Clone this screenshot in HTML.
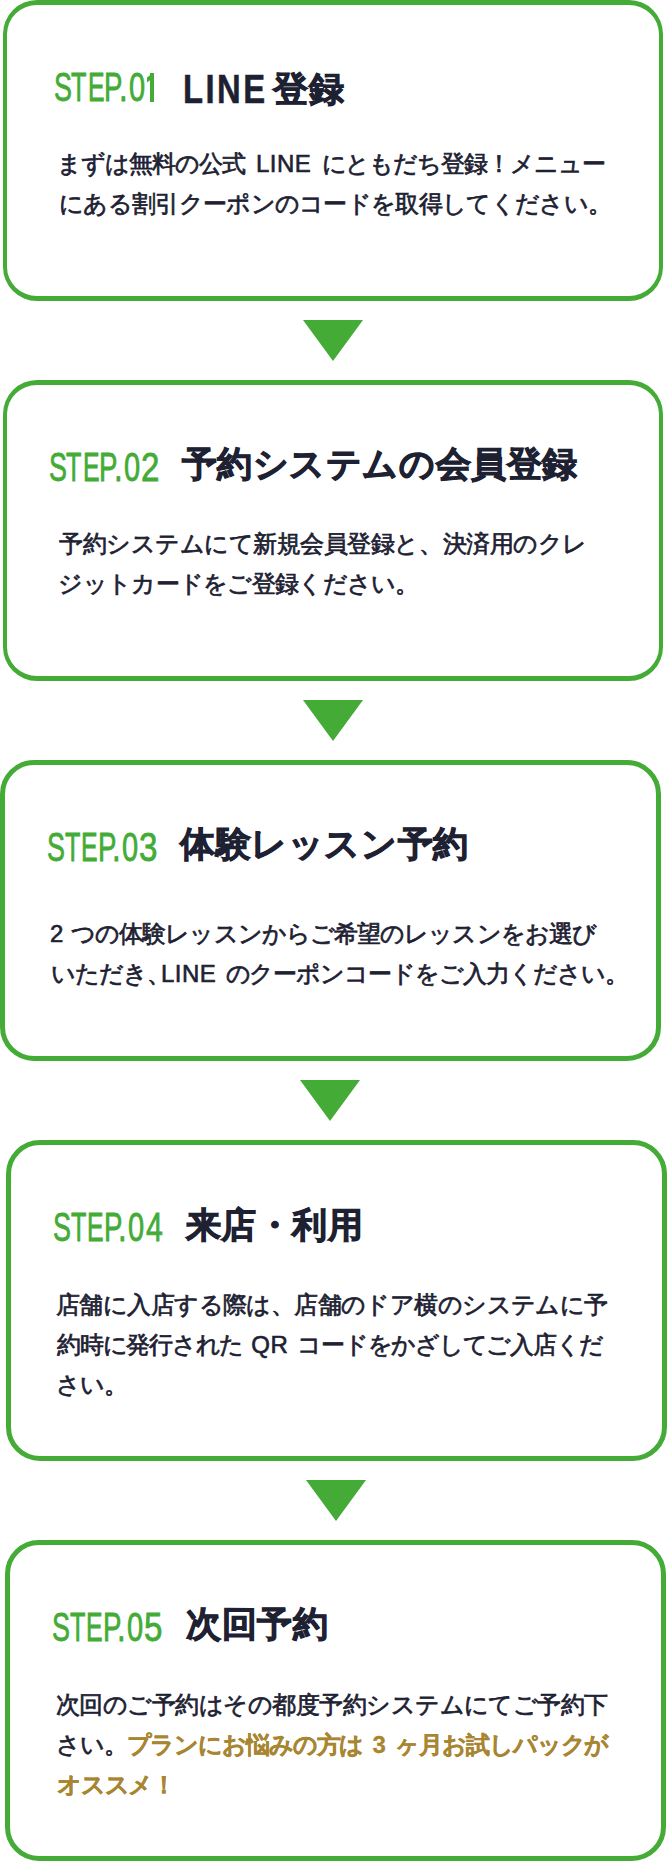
<!DOCTYPE html>
<html lang="ja">
<head>
<meta charset="utf-8">
<style>
html,body{margin:0;padding:0;background:#fff;}
body{width:667px;height:1861px;position:relative;overflow:hidden;font-family:"Liberation Sans",sans-serif;color:#1d2132;}
.box{position:absolute;box-sizing:border-box;border:4.4px solid #43ab36;border-radius:34px;background:#fff;}
.tri{position:absolute;width:0;height:0;border-left:30px solid transparent;border-right:30px solid transparent;border-top:41px solid #43ab36;}
.lbl{position:absolute;color:#43ab36;font-size:41px;line-height:40px;transform-origin:0 0;white-space:nowrap;-webkit-text-stroke-width:0.8px;}
.hd{position:absolute;font-size:35px;letter-spacing:0.6px;line-height:40px;font-weight:700;white-space:nowrap;-webkit-text-stroke-width:1.0px;}
.ln{position:absolute;font-size:24px;line-height:40px;white-space:nowrap;-webkit-text-stroke-width:0.7px;}

.lt{letter-spacing:0.5px;font-weight:400;-webkit-text-stroke-width:0.6px;}
.gold{color:#a88631;font-weight:700;-webkit-text-stroke-width:0.3px;}
.gold .lt{font-weight:700;-webkit-text-stroke-width:0.3px;}
</style>
</head>
<body>
<div class="box" style="left:3px;top:0px;width:660px;height:301px;border-width:5px 4px"></div>
<div class="tri" style="left:303px;top:320px;border-left-width:30.0px;border-right-width:30.0px"></div>
<div class="box" style="left:3px;top:380px;width:660px;height:301px;border-width:5px 4px"></div>
<div class="tri" style="left:303px;top:700px;border-left-width:30.0px;border-right-width:30.0px"></div>
<div class="box" style="left:0px;top:760px;width:661px;height:301px;border-width:5px"></div>
<div class="tri" style="left:300.2px;top:1080px;border-left-width:30.3px;border-right-width:30.3px"></div>
<div class="box" style="left:6px;top:1140px;width:661px;height:321px;border-width:5px"></div>
<div class="tri" style="left:306px;top:1480px;border-left-width:30.5px;border-right-width:30.5px"></div>
<div class="box" style="left:5px;top:1540px;width:661px;height:321px;border-width:5px"></div>
<div class="lbl" style="left:53.62px;top:66.5px;transform:scaleX(0.656)">S</div>
<div class="lbl" style="left:71.40px;top:66.5px;transform:scaleX(0.615)">T</div>
<div class="lbl" style="left:87.62px;top:66.5px;transform:scaleX(0.606)">E</div>
<div class="lbl" style="left:104.43px;top:66.5px;transform:scaleX(0.674)">P</div>
<div class="lbl" style="left:118.64px;top:66.5px;transform:scaleX(0.758)">.</div>
<div class="lbl" style="left:128.51px;top:66.5px;transform:scaleX(0.708)">0</div>
<div class="lbl" style="left:48.67px;top:446.5px;transform:scaleX(0.656)">S</div>
<div class="lbl" style="left:66.45px;top:446.5px;transform:scaleX(0.615)">T</div>
<div class="lbl" style="left:82.67px;top:446.5px;transform:scaleX(0.606)">E</div>
<div class="lbl" style="left:99.48px;top:446.5px;transform:scaleX(0.674)">P</div>
<div class="lbl" style="left:113.69px;top:446.5px;transform:scaleX(0.758)">.</div>
<div class="lbl" style="left:123.56px;top:446.5px;transform:scaleX(0.708)">0</div>
<div class="lbl" style="left:141.07px;top:446.5px;transform:scaleX(0.809)">2</div>
<div class="lbl" style="left:46.72px;top:826.5px;transform:scaleX(0.656)">S</div>
<div class="lbl" style="left:64.50px;top:826.5px;transform:scaleX(0.615)">T</div>
<div class="lbl" style="left:80.72px;top:826.5px;transform:scaleX(0.606)">E</div>
<div class="lbl" style="left:97.53px;top:826.5px;transform:scaleX(0.674)">P</div>
<div class="lbl" style="left:111.74px;top:826.5px;transform:scaleX(0.758)">.</div>
<div class="lbl" style="left:121.61px;top:826.5px;transform:scaleX(0.708)">0</div>
<div class="lbl" style="left:139.12px;top:826.5px;transform:scaleX(0.809)">3</div>
<div class="lbl" style="left:52.82px;top:1206.5px;transform:scaleX(0.656)">S</div>
<div class="lbl" style="left:70.60px;top:1206.5px;transform:scaleX(0.615)">T</div>
<div class="lbl" style="left:86.82px;top:1206.5px;transform:scaleX(0.606)">E</div>
<div class="lbl" style="left:103.62px;top:1206.5px;transform:scaleX(0.674)">P</div>
<div class="lbl" style="left:117.84px;top:1206.5px;transform:scaleX(0.758)">.</div>
<div class="lbl" style="left:127.71px;top:1206.5px;transform:scaleX(0.708)">0</div>
<div class="lbl" style="left:146.08px;top:1206.5px;transform:scaleX(0.736)">4</div>
<div class="lbl" style="left:51.72px;top:1606.5px;transform:scaleX(0.656)">S</div>
<div class="lbl" style="left:69.50px;top:1606.5px;transform:scaleX(0.615)">T</div>
<div class="lbl" style="left:85.72px;top:1606.5px;transform:scaleX(0.606)">E</div>
<div class="lbl" style="left:102.53px;top:1606.5px;transform:scaleX(0.674)">P</div>
<div class="lbl" style="left:116.74px;top:1606.5px;transform:scaleX(0.758)">.</div>
<div class="lbl" style="left:126.61px;top:1606.5px;transform:scaleX(0.708)">0</div>
<div class="lbl" style="left:144.12px;top:1606.5px;transform:scaleX(0.809)">5</div>
<div class="hd" style="left:273px;top:69px">登録</div>
<div class="hd" style="left:181.5px;top:444px">予約システムの会員登録</div>
<div class="hd" style="left:180px;top:824px">体験レッスン予約</div>
<div class="hd" style="left:185.5px;top:1205px">来店・利用</div>
<div class="hd" style="left:186px;top:1604px">次回予約</div>
<div class="ln" style="left:57.2px;top:144px;letter-spacing:-1.05px">まずは無料の公式<span class="lt" style="margin:0 3px 0 4px"> LINE </span>にともだち登録！メニュー</div>
<div class="ln" style="left:59px;top:184px;letter-spacing:-0.687px">にある割引クーポンのコードを取得してください。</div>
<div class="ln" style="left:59.4px;top:524px;letter-spacing:-0.493px">予約システムにて新規会員登録と、決済用のクレ</div>
<div class="ln" style="left:58.4px;top:564px;letter-spacing:-0.715px">ジットカードをご登録ください。</div>
<div class="ln" style="left:50px;top:914px;letter-spacing:-0.91px"><span class="lt">2 </span>つの体験レッスンからご希望のレッスンをお選び</div>
<div class="ln" style="left:51.2px;top:954px;letter-spacing:-1.044px">いただき、<span class="lt" style="margin:0 2px 0 -9px">LINE </span>のクーポンコードをご入力ください。</div>
<div class="ln" style="left:56px;top:1285px;letter-spacing:-0.58px">店舗に入店する際は、店舗のドア横のシステムに予</div>
<div class="ln" style="left:57.3px;top:1325px;letter-spacing:-1.27px">約時に発行された<span class="lt" style="margin:0 2px 0 1px"> QR </span>コードをかざしてご入店くだ</div>
<div class="ln" style="left:56px;top:1365px;letter-spacing:-1.0px">さい。</div>
<div class="ln" style="left:56px;top:1685px;letter-spacing:-0.529px">次回のご予約はその都度予約システムにてご予約下</div>
<div class="ln" style="left:56px;top:1725px;letter-spacing:-1.134px">さい。<span class="gold">プランにお悩みの方は<span class="lt" style="margin:0 2px"> 3 </span>ヶ月お試しパックが</span></div>
<div class="ln" style="left:57.3px;top:1765px;letter-spacing:-1.3px"><span class="gold">オススメ！</span></div>
<div style="position:absolute;left:150px;top:73px;width:4px;height:28.5px;background:#43ab36"></div>
<div style="position:absolute;left:147px;top:75.5px;width:4px;height:4.5px;background:#43ab36;transform:skewY(-35deg)"></div>
<div class="hd" style="-webkit-text-stroke-width:0.5px;left:183px;top:68.5px;font-size:40px;letter-spacing:3px;transform-origin:0 0;transform:scaleX(0.82)">LINE</div>
</body>
</html>
